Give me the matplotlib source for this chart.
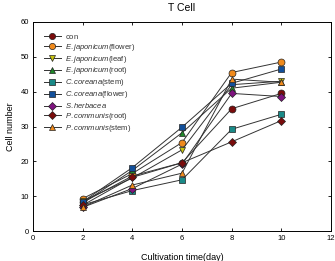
import matplotlib
matplotlib.use("Agg")
import matplotlib.pyplot as plt

plt.rcParams['font.family'] = ['Liberation Sans', 'DejaVu Sans']
plt.rcParams['mathtext.fontset'] = 'custom'
plt.rcParams['mathtext.it'] = 'Liberation Sans:italic'
plt.rcParams['mathtext.rm'] = 'Liberation Sans'

days = [2, 4, 6, 8, 10]
labels = [r"$\mathrm{con}$",
          r"$\mathit{E.japonicum}$(flower)",
          r"$\mathit{E.japonicum}$(leaf)",
          r"$\mathit{E.japonicum}$(root)",
          r"$\mathit{C.coreana}$(stem)",
          r"$\mathit{C.coreana}$(flower)",
          r"$\mathit{S.herbacea}$",
          r"$\mathit{P.communis}$(root)",
          r"$\mathit{P.communis}$(stem)"]
con = [8.2, 15.8, 19.6, 35.1, 39.5]
ej_flower = [9.3, 16.5, 25.4, 45.5, 48.5]
ej_leaf = [8.6, 15.2, 23.3, 42.0, 43.0]
ej_root = [8.0, 17.4, 28.2, 41.0, 42.7]
cc_stem = [7.5, 11.6, 14.7, 29.2, 33.5]
cc_flower = [8.4, 18.2, 29.8, 42.4, 46.5]
s_herb = [6.8, 12.2, 19.2, 39.5, 38.6]
pc_root = [7.4, 15.4, 19.6, 25.6, 31.7]
pc_stem = [6.9, 13.2, 16.6, 43.6, 42.7]
series = [con, ej_flower, ej_leaf, ej_root, cc_stem, cc_flower, s_herb, pc_root, pc_stem]

colors = ['#7a0c0c', '#f08a1c', '#c8c410', '#1f8a2a', '#1a8a88', '#124f9a', '#7f137f', '#7a0c0c', '#f08a1c']
markers = ['o', 'o', 'v', '^', 's', 's', 'D', 'D', '^']
sizes = [5, 5, 5, 5, 4.5, 4.5, 4.3, 4.3, 5]

fig = plt.figure(figsize=(3.35, 2.61), dpi=100)
ax = fig.add_axes([33/335, 30/261, 298/335, 209/261])

for vals, lab, c, m, s in zip(series, labels, colors, markers, sizes):
    ax.plot(days, vals, color='#333333', lw=0.7, marker=m, markersize=s,
            markerfacecolor=c, markeredgecolor='#222222', markeredgewidth=0.5, label=lab)

ax.set_xlim(0, 12)
ax.set_ylim(0, 60)
ax.set_xticks(range(0, 13, 2))
ax.set_yticks(range(0, 61, 10))
ax.tick_params(direction='in', top=True, right=True, labelsize=5.5, length=2.5, width=0.6, pad=3)
for sp in ax.spines.values():
    sp.set_linewidth(0.7)
ax.set_xlabel("Cultivation time(day)", fontsize=6.5, labelpad=8)
ax.set_ylabel("Cell number", fontsize=6.5, labelpad=4)
ax.set_title("T Cell", fontsize=7.5, pad=8)

ax.legend(loc='upper left', frameon=False, fontsize=5.5, handlelength=2.2,
          labelspacing=0.12, borderaxespad=1.0, handletextpad=0.6, markerscale=0.9,
          labelcolor='#333333')

fig.savefig("out.png", dpi=100)
